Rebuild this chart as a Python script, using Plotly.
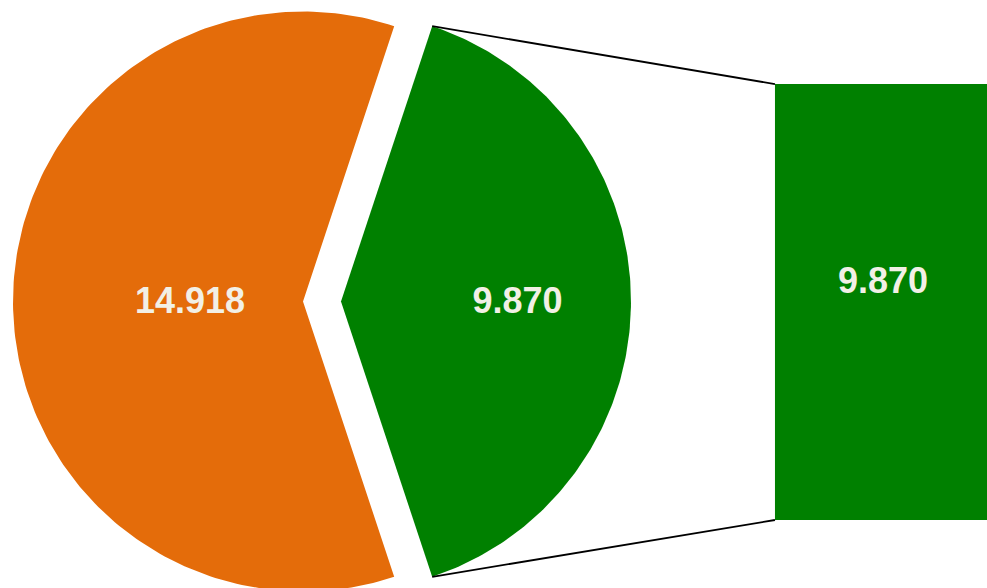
import numpy as np
import plotly.graph_objects as go

# ---- data ----
categories = ["A", "B"]
values = [14.918, 9.870]
colors = ["#E46C0A", "#008000"]
bar_value = 9.870
bar_color = "#008000"
text_color = "#F2F0E6"

# ---- layout constants (units: pie radius = 1) ----
W, H = 987, 588
PX = 290.0                 # pixels per unit
cx_px, cy_px = 303.0, 301.5
pull = 0.131               # offset of the exploded slice
bar_center_x = 2.0
bar_width = 0.745
bar_bottom = -0.7534
bar_scale = 1.503 / bar_value
label_dy = -0.011          # small vertical nudge for text baseline

total = sum(values)
half = np.pi * values[1] / total  # half angle of the exploded slice

def sector(a0, a1, ox=0.0, n=200):
    t = np.linspace(a0, a1, n)
    xs = np.concatenate([[ox], ox + np.cos(t), [ox]])
    ys = np.concatenate([[0.0], np.sin(t), [0.0]])
    return xs, ys

fig = go.Figure()

# orange (main) slice
xs, ys = sector(half, 2 * np.pi - half)
fig.add_trace(go.Scatter(x=xs, y=ys, fill="toself", fillcolor=colors[0],
                         line=dict(width=0, color=colors[0]), mode="lines",
                         hoverinfo="skip"))
# green (exploded) slice
xs, ys = sector(-half, half, ox=pull)
fig.add_trace(go.Scatter(x=xs, y=ys, fill="toself", fillcolor=colors[1],
                         line=dict(width=0, color=colors[1]), mode="lines",
                         hoverinfo="skip"))

# bar
fig.add_trace(go.Bar(x=[bar_center_x], y=[bar_value * bar_scale], base=[bar_bottom],
                     width=[bar_width], marker=dict(color=bar_color, line=dict(width=0)),
                     hoverinfo="skip"))

# connector lines
bar_left = bar_center_x - bar_width / 2
bar_top = bar_bottom + bar_value * bar_scale
for sgn, by in [(1, bar_top), (-1, bar_bottom)]:
    px0 = pull + np.cos(half)
    py0 = sgn * np.sin(half)
    fig.add_trace(go.Scatter(x=[px0, bar_left], y=[py0, by], mode="lines",
                             line=dict(color="black", width=1.8), hoverinfo="skip"))

# labels
lab_font = dict(family="Liberation Sans, Arial, sans-serif", size=36, color=text_color)
fig.add_trace(go.Scatter(
    x=[-0.3897, pull + 0.6086, bar_center_x],
    y=[0.003 + label_dy, 0.003 + label_dy,
       bar_bottom + bar_value * bar_scale / 2 + 0.074 + label_dy],
    mode="text",
    text=[f"<b>{values[0]:.3f}</b>", f"<b>{values[1]:.3f}</b>", f"<b>{bar_value:.3f}</b>"],
    textfont=lab_font, textposition="middle center", hoverinfo="skip"))

x0 = -cx_px / PX
x1 = (W - cx_px) / PX
y0 = -(H - cy_px) / PX
y1 = cy_px / PX

fig.update_layout(
    width=W, height=H,
    margin=dict(l=0, r=0, t=0, b=0),
    paper_bgcolor="white", plot_bgcolor="white",
    showlegend=False,
    xaxis=dict(range=[x0, x1], visible=False, fixedrange=True),
    yaxis=dict(range=[y0, y1], visible=False, fixedrange=True),
)

fig.write_html("out.html",
               config={"displayModeBar": False},
               post_script="document.body.style.margin='0';document.body.style.overflow='hidden';")
